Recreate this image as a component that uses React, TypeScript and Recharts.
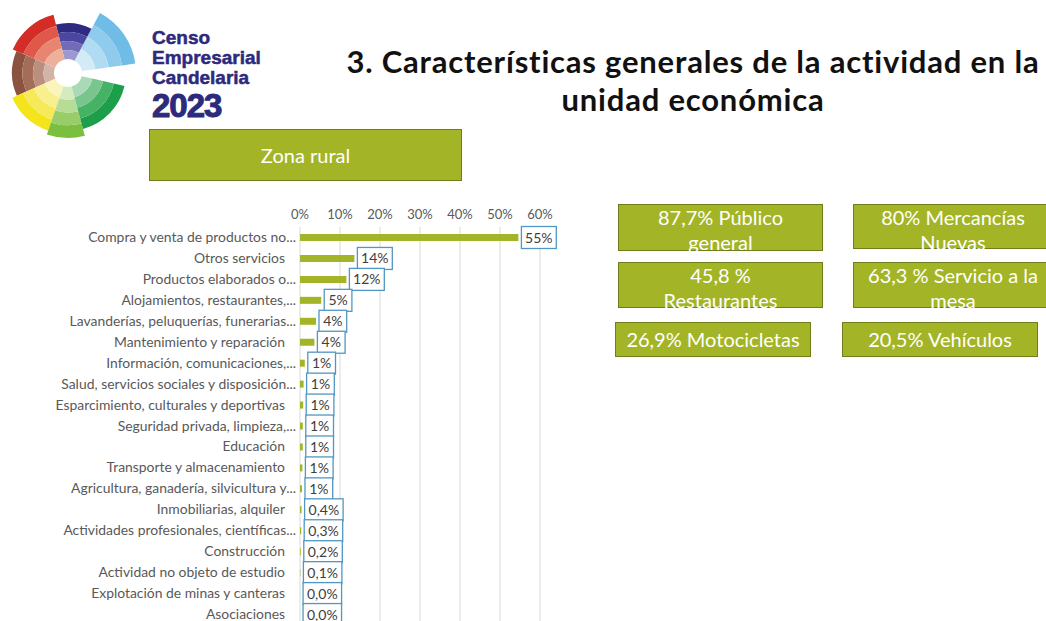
import React from 'react';
import { BarChart, Bar, XAxis, YAxis, CartesianGrid, LabelList } from 'recharts';

// activity categories as shown on the axis (already truncated like the source slide)
const categories = [
  'Compra y venta de productos no...',
  'Otros servicios',
  'Productos elaborados o...',
  'Alojamientos, restaurantes,...',
  'Lavanderías, peluquerías, funerarias...',
  'Mantenimiento y reparación',
  'Información, comunicaciones,...',
  'Salud, servicios sociales y disposición...',
  'Esparcimiento, culturales y deportivas',
  'Seguridad privada, limpieza,...',
  'Educación',
  'Transporte y almacenamiento',
  'Agricultura, ganadería, silvicultura y...',
  'Inmobiliarias, alquiler',
  'Actividades profesionales, científicas...',
  'Construcción',
  'Actividad no objeto de estudio',
  'Explotación de minas y canteras',
  'Asociaciones',
];

const shares = [54.6, 13.6, 11.6, 5.3, 4.0, 3.6, 1.2, 0.9, 0.8, 0.7, 0.7, 0.6, 0.5, 0.4, 0.3, 0.2, 0.1, 0.02, 0.01];

const shareLabels = [
  '55%', '14%', '12%', '5%', '4%', '4%', '1%', '1%', '1%', '1%', '1%', '1%', '1%',
  '0,4%', '0,3%', '0,2%', '0,1%', '0,0%', '0,0%',
];

const xTicks = [0, 10, 20, 30, 40, 50, 60];

const highlights = [
  '87,7% Público general',
  '80% Mercancías Nuevas',
  '45,8 % Restaurantes',
  '63,3 % Servicio a la mesa',
  '26,9% Motocicletas',
  '20,5% Vehículos',
];

// logo wedges: start angle, end angle, reach, shades (outer -> inner)
const logoStart = [8, 62, 104, 157, 204, 251, 285];
const logoEnd = [62, 104, 157, 204, 251, 285, 347];
const logoReach = [68, 50, 60, 56, 61, 65, 58];
const logoShades = [
  ['#6fbde6', '#8fcbec', '#b1dbf2', '#d3ebf7'],
  ['#2e2a80', '#4b46a0', '#726cb8', '#9d98cf'],
  ['#d42d27', '#e0584a', '#e88570', '#efb09a'],
  ['#8c5240', '#a36d5a', '#bb8f7d', '#d3b4a6'],
  ['#f4e41c', '#f6ea5a', '#f8f08e', '#fbf5bd'],
  ['#7abf3f', '#98cd6a', '#b6dc95', '#d4eabf'],
  ['#1c9f48', '#46b266', '#78c68e', '#a9dab5'],
];

const data = categories.map((name, i) => ({ name, value: shares[i], label: shareLabels[i] }));

const GREEN = '#a3b526';
const LABEL_GREY = '#595959';

const arc = (cx: number, cy: number, r0: number, r1: number, a0: number, a1: number) => {
  const rad = (d: number) => (d * Math.PI) / 180;
  const p = (r: number, a: number) => `${cx + r * Math.cos(rad(a))},${cy - r * Math.sin(rad(a))}`;
  const large = a1 - a0 > 180 ? 1 : 0;
  return `M${p(r1, a0)} A${r1},${r1} 0 ${large} 0 ${p(r1, a1)} L${p(r0, a1)} A${r0},${r0} 0 ${large} 1 ${p(r0, a0)} Z`;
};

const Logo = () => {
  const cx = 68;
  const cy = 73;
  const hole = 14;
  return (
    <svg width={145} height={145} style={{ position: 'absolute', left: 0, top: 0 }}>
      {logoStart.map((a0, i) =>
        logoShades[i].map((c, r) => {
          const step = (logoReach[i] - hole) / 4;
          const outer = logoReach[i] - r * step;
          return <path key={`${i}-${r}`} d={arc(cx, cy, outer - step, outer, a0, logoEnd[i])} fill={c} />;
        })
      )}
    </svg>
  );
};

const CategoryTick = ({ x, y, payload }: any) => {
  const cut = payload.value.endsWith('...');
  return (
    <text x={x - (cut ? 0 : 11)} y={y} dy={4.5} textAnchor="end" fill={LABEL_GREY} fontSize={13.9} fontFamily="Lato, sans-serif">
      {payload.value}
    </text>
  );
};

const charW = (s: string) =>
  s.split('').reduce((w, ch) => w + (ch === '%' ? 10.5 : ch === ',' ? 3.6 : 7.2), 0);

const BoxLabel = ({ x, y, width, height, value }: any) => {
  const w = charW(String(value)) + 10;
  const bx = x + width + 3;
  const cy = y + height / 2;
  return (
    <g>
      <rect x={bx} y={cy - 11} width={w} height={22} fill="#fff" stroke="#5297c2" strokeWidth={1.3} />
      <text x={bx + w / 2} y={cy} dy={5} textAnchor="middle" fill="#404040" fontSize={14} fontFamily="Lato, sans-serif">
        {value}
      </text>
    </g>
  );
};

const greenBox = (left: number, top: number, width: number, height: number, pad = 0): React.CSSProperties => ({
  position: 'absolute',
  left,
  top,
  width,
  height,
  boxSizing: 'border-box',
  padding: `0 ${pad}px`,
  background: GREEN,
  border: '1.5px solid #6f7d1a',
  color: '#fff',
  fontFamily: 'Lato, sans-serif',
  fontSize: 20,
  lineHeight: '25px',
  textAlign: 'center',
});

const logoText: React.CSSProperties = {
  position: 'absolute',
  left: 152,
  color: '#2d2a7c',
  fontFamily: '"Liberation Sans", Arial, sans-serif',
  fontWeight: 700,
  fontSize: 19,
  lineHeight: '20px',
  WebkitTextStroke: '0.5px #2d2a7c',
  whiteSpace: 'nowrap',
};

export default function App() {
  return (
    <div style={{ position: 'absolute', left: 0, top: 0, width: 1046, height: 621, overflow: 'hidden', background: '#fff' }}>
      <Logo />
      <div style={{ ...logoText, top: 28 }}>Censo</div>
      <div style={{ ...logoText, top: 48 }}>Empresarial</div>
      <div style={{ ...logoText, top: 68 }}>Candelaria</div>
      <div style={{ ...logoText, top: 91, fontSize: 33, lineHeight: '30px', letterSpacing: -1, WebkitTextStroke: '1px #2d2a7c' }}>2023</div>

      <div style={{ position: 'absolute', left: 340, top: 42, width: 706, textAlign: 'center', fontFamily: 'Lato, sans-serif', fontWeight: 700, fontSize: 31, letterSpacing: 0.8, lineHeight: '38px', color: '#111' }}>
        3. Características generales de la actividad en la
        <br />
        unidad económica
      </div>

      <div style={{ ...greenBox(149, 129, 313, 52), lineHeight: '50px' }}>Zona rural</div>

      <div style={greenBox(618, 204, 205, 47, 16)}>{highlights[0]}</div>
      <div style={greenBox(853, 204, 200, 45, 6)}>{highlights[1]}</div>
      <div style={greenBox(618, 262, 205, 46, 16)}>{highlights[2]}</div>
      <div style={greenBox(853, 262, 200, 46, 4)}>{highlights[3]}</div>
      <div style={{ ...greenBox(615, 322, 196, 35), lineHeight: '33px' }}>{highlights[4]}</div>
      <div style={{ ...greenBox(842, 322, 196, 35), lineHeight: '33px' }}>{highlights[5]}</div>

      <div style={{ position: 'absolute', left: 0, top: 195 }}>
        <BarChart
          layout="vertical"
          width={560}
          height={430}
          data={data}
          margin={{ top: 12, right: 20, left: 0, bottom: 0 }}
          barCategoryGap={7}
        >
          <CartesianGrid horizontal={false} stroke="#d9d9d9" />
          <XAxis
            type="number"
            orientation="top"
            domain={[0, 60]}
            ticks={xTicks}
            tickFormatter={(v) => `${v}%`}
            axisLine={false}
            tickLine={false}
            height={20}
            tickMargin={2}
            tick={{ fill: LABEL_GREY, fontSize: 13, fontFamily: 'Lato, sans-serif' }}
          />
          <YAxis
            type="category"
            dataKey="name"
            width={300}
            interval={0}
            axisLine={false}
            tickLine={false}
            tickSize={0}
            tickMargin={4}
            tick={<CategoryTick />}
          />
          <Bar dataKey="value" fill={GREEN} barSize={7} isAnimationActive={false}>
            <LabelList dataKey="label" content={<BoxLabel />} />
          </Bar>
        </BarChart>
      </div>
    </div>
  );
}
